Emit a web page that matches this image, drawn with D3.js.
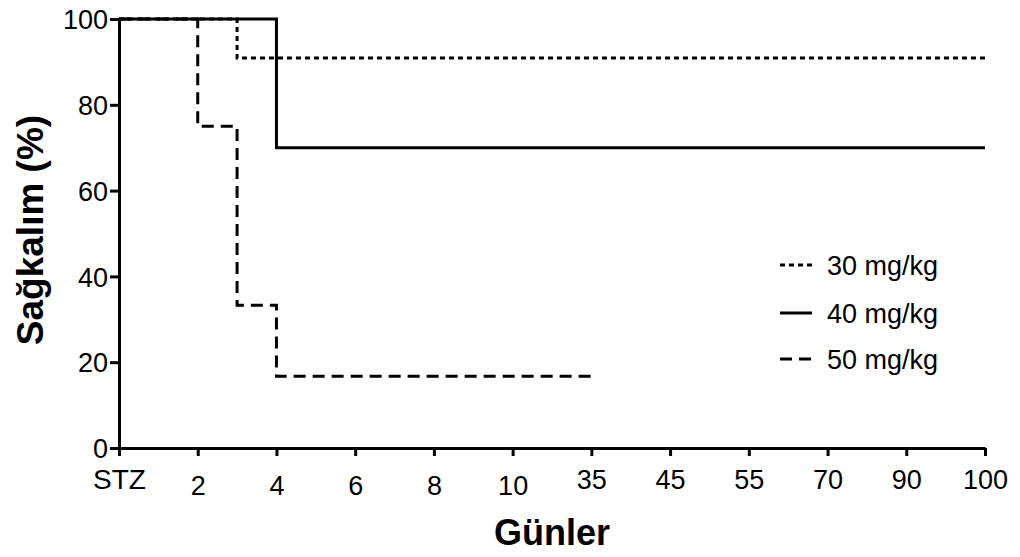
<!DOCTYPE html>
<html><head><meta charset="utf-8">
<script src="https://cdn.jsdelivr.net/npm/d3@7"></script>
<style>body{margin:0;background:#fff}svg{display:block}text{font-family:"Liberation Sans",Arial,sans-serif;fill:#000}</style>
</head><body>
<svg id="c" width="1020" height="557"></svg>
<script>
const tickDays = [0,2,4,6,8,10,35,45,55,70,90,100];
const tickLabels = ["STZ","2","4","6","8","10","35","45","55","70","90","100"];
const yTicks = [0,20,40,60,80,100];
const seriesNames = ["30 mg/kg","40 mg/kg","50 mg/kg"];
const days30 = [0,3,100];
const surv30 = [100,90.9,90.9];
const days40 = [0,4,100];
const surv40 = [100,70,70];
const days50 = [0,2,3,4,35];
const surv50 = [100,75,33.3,16.7,16.7];

const svg = d3.select("#c");
const L = 119, R = 985, T = 19, B = 448;
const x = d3.scaleLinear().domain(tickDays)
  .range(tickDays.map((d,i)=> L + i*(R-L)/(tickDays.length-1)));
const y = d3.scaleLinear().domain([0,100]).range([B,T]);

// axes
const xa = svg.append("g").attr("transform",`translate(0,${B})`)
  .call(d3.axisBottom(x).tickValues(tickDays).tickFormat((d,i)=>tickLabels[i]).tickSize(8).tickSizeOuter(0));
xa.select(".domain").attr("stroke-width",3).attr("stroke","#000");
xa.selectAll(".tick line").attr("stroke-width",3);
xa.selectAll(".tick text").style("font-size","27px")
  .attr("dy",null)
  .attr("y",(d,i)=> (i>=1 && i<=5) ? 47 : 41);
xa.selectAll(".tick text").filter((d,i)=>i===0).style("font-size","28px");

const ya = svg.append("g").attr("transform",`translate(${L},0)`)
  .call(d3.axisLeft(y).tickValues(yTicks).tickSize(9).tickSizeOuter(0).tickPadding(2));
ya.select(".domain").attr("stroke-width",3).attr("stroke","#000");
ya.selectAll(".tick line").attr("stroke-width",3);
ya.selectAll(".tick text").style("font-size","27px").attr("dy","0.36em");

// lines
const line = d3.line().x(d=>x(d[0])).y(d=>y(d[1])).curve(d3.curveStepAfter);
const dashes = ["5,4",null,"12,7"];
const data = [d3.zip(days30,surv30), d3.zip(days40,surv40), d3.zip(days50,surv50)];
[2,0,1].forEach(i=>{
  svg.append("path").attr("d",line(data[i])).attr("fill","none")
    .attr("stroke","#000").attr("stroke-width",3)
    .attr("stroke-dasharray",dashes[i]);
});

// legend
const legY = [265,313,359];
seriesNames.forEach((n,i)=>{
  svg.append("line").attr("x1",780).attr("x2",812).attr("y1",legY[i]).attr("y2",legY[i])
    .attr("stroke","#000").attr("stroke-width",3).attr("stroke-dasharray",dashes[i]);
  svg.append("text").attr("x",827).attr("y",legY[i]).attr("dy","0.36em").style("font-size","27px").text(n);
});

// axis titles
svg.append("text").attr("transform","translate(43,230) rotate(-90)").attr("text-anchor","middle")
  .style("font-size","37px").style("font-weight","bold").text("Sağkalım (%)");
svg.append("text").attr("x",552).attr("y",545).attr("text-anchor","middle")
  .style("font-size","36px").style("font-weight","bold").text("Günler");
</script>
</body></html>
